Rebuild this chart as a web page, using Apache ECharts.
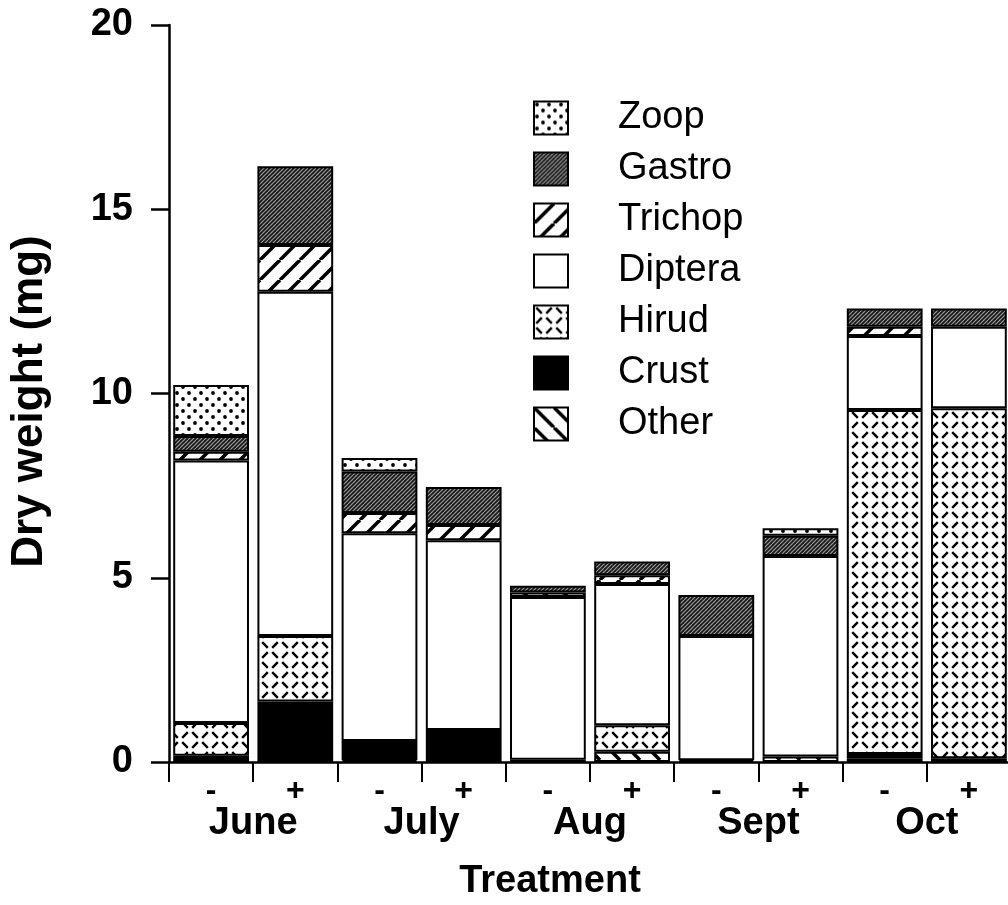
<!DOCTYPE html>
<html>
<head>
<meta charset="utf-8">
<script src="https://cdn.jsdelivr.net/npm/echarts@6/dist/echarts.min.js"></script>
<style>html,body{margin:0;padding:0;background:#fff}#c{width:1008px;height:905px}</style>
</head>
<body>
<div id="c"></div>
<script>
// ---- data ----
const treatments = ['-', '+', '-', '+', '-', '+', '-', '+', '-', '+'];
const months = ['June', 'July', 'Aug', 'Sept', 'Oct'];
const legendOrder = ['Zoop', 'Gastro', 'Trichop', 'Diptera', 'Hirud', 'Crust', 'Other'];
const yTickMin = 0, yTickMax = 20, yTickStep = 5;
// values per bar: June-, June+, July-, July+, Aug-, Aug+, Sept-, Sept+, Oct-, Oct+
const other   = [0,    0,    0.05, 0,    0,    0.28, 0,    0.15, 0.10, 0];
const crust   = [0.17, 1.64, 0.52, 0.87, 0.06, 0,    0.05, 0,    0.12, 0.10];
const hirud   = [0.89, 1.78, 0,    0,    0,    0.72, 0,    0,    9.33, 9.50];
const diptera = [7.12, 9.34, 5.64, 5.15, 4.42, 3.83, 3.37, 5.44, 2.01, 2.21];
const trichop = [0.24, 1.27, 0.55, 0.41, 0.12, 0.24, 0,    0,    0.25, 0];
const gastro  = [0.43, 2.14, 1.12, 1.03, 0.18, 0.37, 1.11, 0.55, 0.50, 0.50];
const zoop    = [1.38, 0,    0.37, 0,    0,    0,    0,    0.20, 0,    0];

// ---- patterns ----
function pat(w, h, draw) {
  const c = document.createElement('canvas');
  c.width = w; c.height = h;
  const g = c.getContext('2d');
  draw(g, w, h);
  return { image: c, repeat: 'repeat' };
}
function line(g, x1, y1, x2, y2) { g.beginPath(); g.moveTo(x1, y1); g.lineTo(x2, y2); g.stroke(); }
function dash(g, cx, cy, dir, half) { line(g, cx - half, cy - dir * half, cx + half, cy + dir * half); }

const fills = {
  Zoop: pat(12, 12, g => {
    g.fillStyle = '#fff'; g.fillRect(0, 0, 12, 12);
    g.fillStyle = '#000';
    [[3, 3], [9, 9]].forEach(p => { g.beginPath(); g.arc(p[0], p[1], 1.9, 0, Math.PI * 2); g.fill(); });
  }),
  Gastro: pat(8, 8, g => {
    g.fillStyle = '#161616'; g.fillRect(0, 0, 8, 8);
    g.strokeStyle = '#a0a0a0'; g.lineWidth = 1.1;
    [-8, -4, 0, 4, 8].forEach(k => line(g, k, 8, k + 8, 0));
    g.strokeStyle = '#4a4a4a'; g.lineWidth = 1;
    [-8, 0, 8].forEach(k => line(g, k, 0, k + 8, 8));
  }),
  Trichop: pat(20, 20, g => {
    g.fillStyle = '#fff'; g.fillRect(0, 0, 20, 20);
    g.strokeStyle = '#000'; g.lineWidth = 3.5;
    [-20, 0, 20].forEach(k => line(g, k, 20, k + 20, 0));
  }),
  Diptera: '#ffffff',
  Hirud: pat(20, 20, g => {
    g.fillStyle = '#fff'; g.fillRect(0, 0, 20, 20);
    g.strokeStyle = '#000'; g.lineWidth = 2.4;
    dash(g, 5, 5, 1, 2.8);
    dash(g, 15, 5, -1, 2.8);
    dash(g, 5, 15, -1, 2.8);
    dash(g, 15, 15, 1, 2.8);
  }),
  Crust: '#000000',
  Other: pat(20, 20, g => {
    g.fillStyle = '#fff'; g.fillRect(0, 0, 20, 20);
    g.strokeStyle = '#000'; g.lineWidth = 3.5;
    [-20, 0, 20].forEach(k => line(g, k, 0, k + 20, 20));
  })
};

const stackSeries = [
  ['Other', other], ['Crust', crust], ['Hirud', hirud], ['Diptera', diptera],
  ['Trichop', trichop], ['Gastro', gastro], ['Zoop', zoop]
];

const FONT = '"Liberation Sans", Arial, Helvetica, sans-serif';

const chart = echarts.init(document.getElementById('c'), null, { renderer: 'canvas' });
const gridBox = { left: 169, top: 25, width: 842, height: 737, containLabel: false, outerBoundsMode: 'none' };

chart.setOption({
  animation: false,
  backgroundColor: '#fff',
  grid: [Object.assign({}, gridBox), Object.assign({}, gridBox)],
  legend: {
    data: legendOrder,
    orient: 'vertical',
    left: 528,
    top: 94,
    icon: 'rect',
    itemWidth: 34,
    itemHeight: 33,
    itemGap: 13,
    selectedMode: false,
    textStyle: { fontFamily: FONT, fontSize: 38, color: '#000', lineHeight: 34, padding: [0, 0, 0, 45] }
  },
  xAxis: [
    {
      type: 'category', gridIndex: 0, data: treatments, position: 'bottom',
      axisLine: { lineStyle: { color: '#000', width: 2.5 } },
      axisTick: { show: true, interval: 0, alignWithLabel: false, length: 20, lineStyle: { color: '#000', width: 2 } },
      axisLabel: { interval: 0, margin: 13, fontFamily: FONT, fontSize: 32, fontWeight: 'bold', color: '#000' },
      splitLine: { show: false }
    },
    {
      type: 'category', gridIndex: 1, data: months, position: 'bottom',
      axisLine: { show: false }, axisTick: { show: false }, splitLine: { show: false },
      axisLabel: { interval: 0, margin: 43, fontFamily: FONT, fontSize: 38, fontWeight: 'bold', color: '#000' },
      name: 'Treatment', nameLocation: 'middle', nameGap: 101,
      nameTextStyle: { fontFamily: FONT, fontSize: 38, fontWeight: 'bold', color: '#000', padding: [0, 80, 0, 0] }
    }
  ],
  yAxis: [
    {
      type: 'value', gridIndex: 0, min: yTickMin, max: yTickMax, interval: yTickStep,
      axisLine: { show: true, lineStyle: { color: '#000', width: 2.5 } },
      axisTick: { show: true, length: 18, lineStyle: { color: '#000', width: 2.5 } },
      axisLabel: { margin: 36, fontFamily: FONT, fontSize: 38, fontWeight: 'bold', color: '#000' },
      splitLine: { show: false },
      name: 'Dry weight (mg)', nameLocation: 'middle', nameGap: 117, nameRotate: 90,
      nameTextStyle: { fontFamily: FONT, fontSize: 44, fontWeight: 'bold', color: '#000', padding: [0, 16, 0, 0] }
    },
    { type: 'value', gridIndex: 1, min: 0, max: 1, show: false }
  ],
  series: stackSeries.map(([name, vals]) => ({
    name: name,
    type: 'bar',
    stack: 'total',
    xAxisIndex: 0,
    yAxisIndex: 0,
    barCategoryGap: '10%',
    data: vals.map(v => (v === 0 ? '-' : v)),
    itemStyle: { color: fills[name], borderColor: '#000', borderWidth: 2 },
    emphasis: { disabled: true }
  }))
});
</script>
</body>
</html>
